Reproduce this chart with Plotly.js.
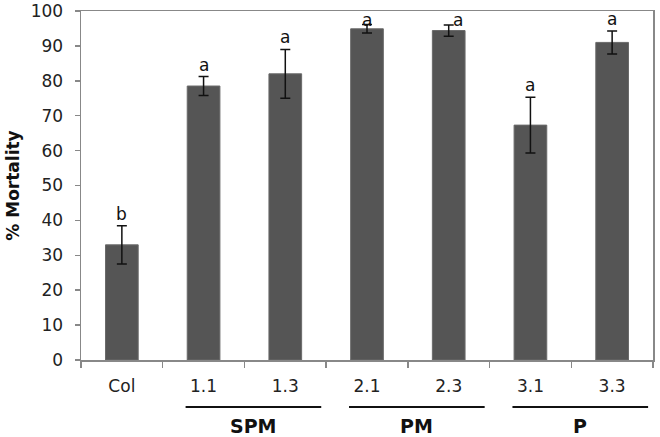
<!DOCTYPE html>
<html>
<head>
<meta charset="utf-8">
<script src="https://cdn.plot.ly/plotly-3.0.1.min.js"></script>
<style>html,body{margin:0;padding:0;background:#fff;}#chart{width:660px;height:437px;}</style>
</head>
<body>
<div id="chart"></div>
<script>
// Data
const categories = ["Col", "1.1", "1.3", "2.1", "2.3", "3.1", "3.3"];
const mortality = [33.0, 78.5, 82.0, 94.9, 94.4, 67.3, 91.0];
const errors = [5.5, 2.7, 7.0, 1.2, 1.6, 8.0, 3.3];
const letters = ["b", "a", "a", "a", "a", "a", "a"];
const groupNames = ["SPM", "PM", "P"];
const groupStart = [1, 3, 5];   // index of first category in each group
const groupEnd = [2, 4, 6];     // index of last category in each group

const trace = {
  type: "bar",
  x: categories,
  y: mortality,
  width: 0.4,
  marker: {color: "#555555", line: {color: "#6a6a6a", width: 1}},
  error_y: {type: "data", array: errors, visible: true, color: "#111111", thickness: 1.5, width: 5},
  hoverinfo: "skip"
};

const annotations = categories.map((c, i) => ({
  x: i, y: mortality[i] + errors[i], xref: "x", yref: "y",
  text: letters[i], showarrow: false, yanchor: "bottom",
  yshift: (i === 3 || i === 4) ? -7 : 0,
  xshift: i === 4 ? 9 : 0,
  font: {family: "DejaVu Sans, Verdana, sans-serif", size: 17, color: "#111"}
}));

const shapes = [];
groupNames.forEach((g, k) => {
  shapes.push({type: "line", xref: "x", yref: "paper",
    x0: groupStart[k] - 0.22, x1: groupEnd[k] + 0.44, y0: -0.135, y1: -0.135,
    line: {color: "#111", width: 2}});
  annotations.push({x: (groupStart[k] + groupEnd[k]) / 2 + 0.11, y: -0.188, xref: "x", yref: "paper",
    text: g, showarrow: false, yanchor: "middle",
    font: {family: "DejaVu Sans, Verdana, sans-serif", size: 19, color: "#111", weight: "bold"}});
});

const layout = {
  width: 660, height: 437,
  margin: {l: 81, r: 7, t: 11, b: 77},
  paper_bgcolor: "#fff", plot_bgcolor: "#fff",
  showlegend: false,
  font: {family: "DejaVu Sans, Verdana, sans-serif", size: 15, color: "#222"},
  xaxis: {
    type: "category", range: [-0.5, 6.5],
    showline: true, linecolor: "#888", linewidth: 1.5, mirror: true,
    ticks: "outside", tickson: "boundaries", ticklen: 6, tickcolor: "#888", tickwidth: 1.5,
    ticklabelstandoff: 10,
    showgrid: false, zeroline: false,
    tickfont: {size: 17, color: "#222"}
  },
  yaxis: {
    range: [0, 100], dtick: 10,
    showline: true, linecolor: "#888", linewidth: 1.5, mirror: true,
    ticks: "outside", ticklen: 5, tickcolor: "#888", tickwidth: 1.5,
    ticklabelstandoff: 8,
    showgrid: false, zeroline: false,
    tickfont: {size: 17, color: "#222"},
    title: {text: "% Mortality", standoff: 6, font: {size: 17, color: "#111", weight: "bold"}}
  },
  shapes: shapes,
  annotations: annotations
};

Plotly.newPlot("chart", [trace], layout, {displayModeBar: false, staticPlot: true});
</script>
</body>
</html>
